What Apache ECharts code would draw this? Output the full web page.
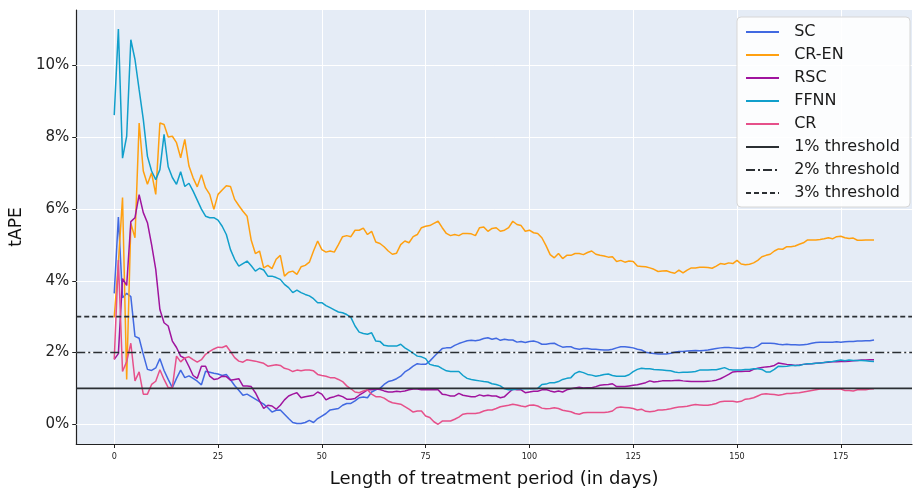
<!DOCTYPE html>
<html>
<head>
<meta charset="utf-8">
<script src="https://cdn.jsdelivr.net/npm/echarts@6/dist/echarts.min.js"></script>
<style>
html,body{margin:0;padding:0;background:#fff;}
#chart{width:923px;height:493px;}
</style>
</head>
<body>
<div id="chart"></div>
<script>
// tAPE (%) per day of treatment period, days 0..183
const sc = [
3.65,5.78,3.53,3.65,3.56,2.45,2.40,1.95,1.53,1.50,
1.57,1.83,1.50,1.25,1.02,1.28,1.51,1.30,1.35,1.28,
1.20,1.10,1.48,1.45,1.42,1.40,1.36,1.39,1.24,1.08,
0.95,0.81,0.84,0.77,0.70,0.63,0.56,0.46,0.34,0.39,
0.40,0.28,0.16,0.05,0.02,0.02,0.05,0.11,0.05,0.16,
0.23,0.30,0.40,0.42,0.44,0.53,0.58,0.58,0.65,0.74,
0.76,0.74,0.90,0.96,1.00,1.11,1.19,1.22,1.27,1.34,
1.46,1.53,1.62,1.69,1.67,1.67,1.76,1.88,2.00,2.11,
2.13,2.13,2.20,2.25,2.29,2.33,2.34,2.33,2.35,2.39,
2.41,2.37,2.40,2.34,2.37,2.35,2.35,2.29,2.31,2.28,
2.31,2.32,2.29,2.23,2.23,2.25,2.26,2.20,2.15,2.16,
2.16,2.11,2.09,2.11,2.11,2.09,2.09,2.08,2.07,2.07,
2.09,2.13,2.16,2.16,2.15,2.13,2.09,2.07,2.01,1.99,
1.97,1.96,1.96,1.96,1.98,2.01,2.03,2.03,2.04,2.05,
2.06,2.05,2.06,2.07,2.09,2.11,2.13,2.14,2.14,2.13,
2.12,2.11,2.14,2.14,2.13,2.18,2.26,2.26,2.26,2.25,
2.23,2.22,2.23,2.22,2.22,2.21,2.22,2.23,2.26,2.28,
2.29,2.29,2.29,2.29,2.30,2.29,2.30,2.31,2.31,2.32,
2.32,2.33,2.33,2.35];
const crEn = [
2.98,4.50,6.32,1.25,5.60,5.20,8.40,7.06,6.69,7.01,
6.41,8.40,8.36,8.01,8.03,7.85,7.43,7.94,7.20,6.87,
6.62,6.96,6.59,6.41,5.99,6.41,6.53,6.65,6.63,6.27,
6.10,5.94,5.80,5.13,4.76,4.83,4.36,4.43,4.34,4.60,
4.71,4.13,4.24,4.27,4.18,4.39,4.43,4.52,4.83,5.11,
4.87,4.80,4.83,4.80,5.01,5.23,5.26,5.23,5.41,5.41,
5.47,5.29,5.38,5.08,5.04,4.95,4.83,4.74,4.77,5.01,
5.11,5.06,5.23,5.29,5.48,5.52,5.54,5.60,5.66,5.48,
5.32,5.26,5.29,5.26,5.32,5.32,5.31,5.26,5.48,5.50,
5.38,5.46,5.48,5.38,5.41,5.48,5.66,5.57,5.54,5.38,
5.41,5.34,5.32,5.20,4.98,4.73,4.64,4.76,4.62,4.71,
4.71,4.76,4.76,4.73,4.79,4.83,4.74,4.71,4.69,4.66,
4.67,4.54,4.57,4.52,4.55,4.54,4.41,4.40,4.39,4.36,
4.32,4.26,4.27,4.28,4.24,4.21,4.30,4.22,4.30,4.36,
4.36,4.38,4.38,4.37,4.35,4.41,4.48,4.46,4.50,4.48,
4.57,4.47,4.45,4.46,4.50,4.57,4.67,4.71,4.74,4.83,
4.89,4.88,4.95,4.95,4.97,5.02,5.06,5.14,5.14,5.14,
5.15,5.17,5.20,5.17,5.23,5.24,5.20,5.18,5.19,5.13,
5.13,5.14,5.14,5.14];
const rsc = [
1.81,1.97,4.06,3.87,5.65,5.76,6.40,5.90,5.62,5.01,
4.32,3.20,2.83,2.74,2.32,2.14,1.90,1.84,1.61,1.36,
1.28,1.62,1.62,1.34,1.25,1.27,1.34,1.33,1.23,1.25,
1.27,1.07,1.07,1.05,0.88,0.65,0.44,0.53,0.51,0.42,
0.53,0.68,0.79,0.84,0.88,0.74,0.77,0.79,0.81,0.90,
0.84,0.68,0.74,0.77,0.81,0.77,0.70,0.70,0.72,0.81,
0.88,0.96,0.96,0.98,0.97,0.93,0.90,0.90,0.92,0.91,
0.93,0.96,0.98,0.98,0.96,0.96,0.96,0.96,0.96,0.84,
0.82,0.79,0.79,0.86,0.81,0.79,0.77,0.77,0.82,0.79,
0.81,0.79,0.79,0.74,0.77,0.88,0.98,0.96,0.96,0.88,
0.90,0.92,0.92,0.96,0.97,0.93,0.90,0.93,0.90,0.96,
0.99,1.01,1.03,1.01,1.02,1.02,1.05,1.09,1.10,1.11,
1.13,1.05,1.05,1.05,1.07,1.09,1.10,1.13,1.16,1.21,
1.18,1.19,1.21,1.21,1.21,1.22,1.23,1.21,1.20,1.19,
1.19,1.19,1.19,1.20,1.21,1.23,1.27,1.33,1.39,1.46,
1.47,1.47,1.48,1.48,1.53,1.56,1.58,1.60,1.61,1.64,
1.71,1.69,1.67,1.66,1.64,1.65,1.67,1.68,1.69,1.70,
1.71,1.72,1.73,1.74,1.74,1.75,1.75,1.76,1.77,1.78,
1.79,1.79,1.80,1.80];
const ffnn = [
8.62,11.02,7.42,8.03,10.72,10.17,9.33,8.50,7.47,7.06,
6.82,7.10,8.08,7.18,6.88,6.69,7.04,6.63,6.72,6.50,
6.25,6.00,5.80,5.76,5.76,5.69,5.52,5.29,4.87,4.60,
4.41,4.48,4.55,4.42,4.27,4.35,4.30,4.13,4.13,4.09,
4.04,3.90,3.81,3.67,3.74,3.67,3.62,3.58,3.50,3.39,
3.39,3.31,3.25,3.19,3.13,3.11,3.06,2.98,2.74,2.57,
2.53,2.51,2.55,2.32,2.31,2.20,2.18,2.18,2.18,2.23,
2.13,2.06,1.98,1.90,1.88,1.83,1.67,1.64,1.62,1.55,
1.49,1.47,1.47,1.47,1.36,1.28,1.25,1.23,1.21,1.19,
1.18,1.13,1.11,1.07,0.99,0.96,0.96,0.98,0.99,0.99,
0.99,0.99,1.00,1.11,1.12,1.16,1.16,1.19,1.25,1.28,
1.30,1.42,1.47,1.44,1.39,1.37,1.34,1.36,1.39,1.40,
1.36,1.34,1.34,1.34,1.38,1.47,1.53,1.56,1.55,1.55,
1.53,1.52,1.51,1.50,1.49,1.46,1.44,1.45,1.45,1.46,
1.47,1.51,1.51,1.51,1.52,1.52,1.55,1.58,1.53,1.51,
1.51,1.51,1.53,1.53,1.55,1.55,1.53,1.46,1.46,1.53,
1.62,1.61,1.62,1.64,1.64,1.64,1.67,1.69,1.69,1.70,
1.71,1.72,1.74,1.75,1.77,1.79,1.77,1.79,1.78,1.78,
1.78,1.77,1.76,1.75];
const cr = [
1.81,4.58,1.47,1.75,2.26,1.21,1.46,0.84,0.84,1.11,
1.20,1.52,1.25,1.02,1.03,1.90,1.74,1.85,1.88,1.80,
1.73,1.80,1.95,2.03,2.10,2.15,2.14,2.19,2.03,1.86,
1.76,1.73,1.80,1.78,1.76,1.73,1.70,1.62,1.64,1.66,
1.64,1.56,1.53,1.47,1.51,1.49,1.51,1.51,1.49,1.39,
1.36,1.34,1.30,1.30,1.25,1.19,1.07,0.99,0.90,0.88,
0.93,0.96,0.84,0.77,0.77,0.73,0.65,0.60,0.58,0.56,
0.49,0.42,0.34,0.37,0.37,0.23,0.19,0.07,0.00,0.09,
0.09,0.09,0.14,0.20,0.28,0.30,0.30,0.30,0.32,0.37,
0.40,0.40,0.44,0.49,0.51,0.53,0.56,0.54,0.51,0.49,
0.53,0.54,0.51,0.45,0.43,0.44,0.46,0.44,0.39,0.37,
0.35,0.30,0.28,0.32,0.33,0.33,0.33,0.33,0.33,0.34,
0.37,0.46,0.48,0.47,0.46,0.44,0.40,0.42,0.36,0.35,
0.36,0.40,0.40,0.41,0.43,0.46,0.48,0.49,0.50,0.53,
0.55,0.54,0.53,0.53,0.55,0.58,0.63,0.64,0.64,0.64,
0.62,0.64,0.70,0.71,0.74,0.79,0.84,0.85,0.84,0.83,
0.81,0.83,0.86,0.86,0.87,0.88,0.90,0.92,0.94,0.96,
0.98,0.98,0.98,0.98,0.98,0.98,0.94,0.94,0.93,0.96,
0.96,0.96,0.98,0.99];

const seriesNames = ['SC', 'CR-EN', 'RSC', 'FFNN', 'CR'];
const thresholds = [1, 2, 3];
const thresholdNames = ['1% threshold', '2% threshold', '3% threshold'];
const xTicks = [0, 25, 50, 75, 100, 125, 150, 175];
const yTicks = [0, 2, 4, 6, 8, 10];

const X_MIN = -9.15, X_MAX = 192.15, Y_MIN = -0.55, Y_MAX = 11.55;
const colors = ['#4169E1', '#FFA010', '#A0149E', '#119FCB', '#E6508A'];
const thrTypes = ['solid', [9, 3, 2, 3], [5, 3]];

const values = [sc, crEn, rsc, ffnn, cr];
const toPairs = arr => arr.map((v, i) => [i, v]);

const chart = echarts.init(document.getElementById('chart'), null, {renderer: 'canvas'});

const series = [{
  type: 'line', data: [], silent: true, z: 1,
  markLine: {
    silent: true, symbol: 'none', animation: false, z: 1,
    label: {show: false},
    lineStyle: {color: '#ffffff', width: 1, type: 'solid'},
    emphasis: {disabled: true},
    data: xTicks.map(v => ({xAxis: v})).concat(yTicks.map(v => ({yAxis: v})))
  }
}];
values.forEach((arr, k) => {
  series.push({
    name: seriesNames[k], type: 'line', data: toPairs(arr),
    symbol: 'none', z: 3 + k,
    lineStyle: {color: colors[k], width: 1.5},
    itemStyle: {color: colors[k]}
  });
});
thresholds.forEach((t, k) => {
  series.push({
    name: thresholdNames[k], type: 'line',
    data: [[X_MIN, t], [X_MAX, t]],
    symbol: 'none', z: 10,
    lineStyle: {color: '#2b2f33', width: 1.6, type: thrTypes[k]},
    itemStyle: {color: '#2b2f33'}
  });
});

chart.setOption({
  animation: false,
  backgroundColor: '#ffffff',
  grid: {left: 75, right: 11, top: 10, bottom: 48, show: true, backgroundColor: '#E5ECF6', borderWidth: 0},
  legend: {
    orient: 'vertical', right: 13, top: 17, z: 30,
    data: seriesNames.concat(thresholdNames),
    itemWidth: 33, itemHeight: 12, itemGap: 7,
    padding: [7, 10, 6, 8],
    itemStyle: {opacity: 0},
    formatter: name => '  ' + name,
    backgroundColor: 'rgba(255,255,255,0.88)',
    borderColor: '#d6d6d6', borderWidth: 1, borderRadius: 4,
    textStyle: {fontFamily: 'DejaVu Sans', fontSize: 16, color: '#1a1a1a'}
  },
  xAxis: {
    type: 'value', min: X_MIN, max: X_MAX,
    name: 'Length of treatment period (in days)',
    nameLocation: 'middle', nameGap: 26,
    nameTextStyle: {fontFamily: 'DejaVu Sans', fontSize: 18, color: '#111'},
    axisLine: {show: true, onZero: false, lineStyle: {color: '#222', width: 1.2}},
    axisTick: {show: true, customValues: xTicks, length: 4, lineStyle: {color: '#222'}},
    axisLabel: {customValues: xTicks, fontFamily: 'DejaVu Sans Condensed', fontSize: 9, color: '#222', margin: 8},
    splitLine: {show: false}
  },
  yAxis: {
    type: 'value', min: Y_MIN, max: Y_MAX,
    name: 'tAPE', nameLocation: 'middle', nameGap: 47, nameRotate: 90,
    nameTextStyle: {fontFamily: 'DejaVu Sans', fontSize: 17, color: '#111'},
    axisLine: {show: true, onZero: false, lineStyle: {color: '#222', width: 1.2}},
    axisTick: {show: true, customValues: yTicks, length: 4, lineStyle: {color: '#222'}},
    axisLabel: {customValues: yTicks, formatter: v => v + '%', fontFamily: 'DejaVu Sans', fontSize: 15, color: '#222', margin: 7},
    splitLine: {show: false}
  },
  series: series
});
</script>
</body>
</html>
